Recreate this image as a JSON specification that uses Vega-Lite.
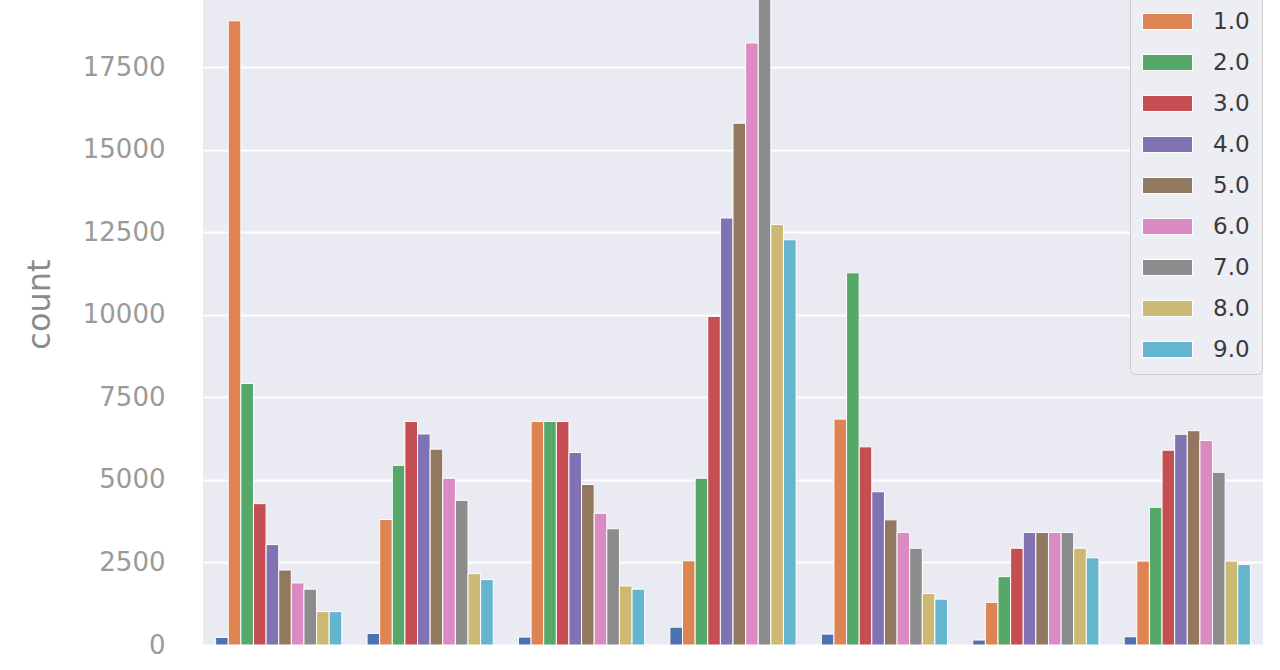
{
  "$schema": "https://vega.github.io/schema/vega-lite/v6.json",
  "width": 1060,
  "height": 645,
  "autosize": {"type": "none"},
  "padding": {"left": 203, "top": 0, "right": 17, "bottom": 25},
  "background": "white",
  "config": {
    "view": {"fill": "#EAEAF2", "stroke": null},
    "font": "DejaVu Sans"
  },
  "data": {
    "values": [
      {"group": "0", "hue": "0.0", "count": 230}, {"group": "0", "hue": "1.0", "count": 18900}, {"group": "0", "hue": "2.0", "count": 7920}, {"group": "0", "hue": "3.0", "count": 4280}, {"group": "0", "hue": "4.0", "count": 3040}, {"group": "0", "hue": "5.0", "count": 2270}, {"group": "0", "hue": "6.0", "count": 1880}, {"group": "0", "hue": "7.0", "count": 1690}, {"group": "0", "hue": "8.0", "count": 1010}, {"group": "0", "hue": "9.0", "count": 1010},
      {"group": "1", "hue": "0.0", "count": 350}, {"group": "1", "hue": "1.0", "count": 3800}, {"group": "1", "hue": "2.0", "count": 5440}, {"group": "1", "hue": "3.0", "count": 6770}, {"group": "1", "hue": "4.0", "count": 6390}, {"group": "1", "hue": "5.0", "count": 5930}, {"group": "1", "hue": "6.0", "count": 5050}, {"group": "1", "hue": "7.0", "count": 4380}, {"group": "1", "hue": "8.0", "count": 2160}, {"group": "1", "hue": "9.0", "count": 1980},
      {"group": "2", "hue": "0.0", "count": 240}, {"group": "2", "hue": "1.0", "count": 6770}, {"group": "2", "hue": "2.0", "count": 6770}, {"group": "2", "hue": "3.0", "count": 6770}, {"group": "2", "hue": "4.0", "count": 5830}, {"group": "2", "hue": "5.0", "count": 4860}, {"group": "2", "hue": "6.0", "count": 3990}, {"group": "2", "hue": "7.0", "count": 3520}, {"group": "2", "hue": "8.0", "count": 1790}, {"group": "2", "hue": "9.0", "count": 1690},
      {"group": "3", "hue": "0.0", "count": 540}, {"group": "3", "hue": "1.0", "count": 2550}, {"group": "3", "hue": "2.0", "count": 5050}, {"group": "3", "hue": "3.0", "count": 9950}, {"group": "3", "hue": "4.0", "count": 12930}, {"group": "3", "hue": "5.0", "count": 15800}, {"group": "3", "hue": "6.0", "count": 18230}, {"group": "3", "hue": "7.0", "count": 20500}, {"group": "3", "hue": "8.0", "count": 12730}, {"group": "3", "hue": "9.0", "count": 12270},
      {"group": "4", "hue": "0.0", "count": 330}, {"group": "4", "hue": "1.0", "count": 6840}, {"group": "4", "hue": "2.0", "count": 11270}, {"group": "4", "hue": "3.0", "count": 6000}, {"group": "4", "hue": "4.0", "count": 4640}, {"group": "4", "hue": "5.0", "count": 3790}, {"group": "4", "hue": "6.0", "count": 3410}, {"group": "4", "hue": "7.0", "count": 2930}, {"group": "4", "hue": "8.0", "count": 1560}, {"group": "4", "hue": "9.0", "count": 1390},
      {"group": "5", "hue": "0.0", "count": 150}, {"group": "5", "hue": "1.0", "count": 1290}, {"group": "5", "hue": "2.0", "count": 2070}, {"group": "5", "hue": "3.0", "count": 2930}, {"group": "5", "hue": "4.0", "count": 3410}, {"group": "5", "hue": "5.0", "count": 3410}, {"group": "5", "hue": "6.0", "count": 3410}, {"group": "5", "hue": "7.0", "count": 3410}, {"group": "5", "hue": "8.0", "count": 2930}, {"group": "5", "hue": "9.0", "count": 2640},
      {"group": "6", "hue": "0.0", "count": 250}, {"group": "6", "hue": "1.0", "count": 2540}, {"group": "6", "hue": "2.0", "count": 4170}, {"group": "6", "hue": "3.0", "count": 5900}, {"group": "6", "hue": "4.0", "count": 6380}, {"group": "6", "hue": "5.0", "count": 6490}, {"group": "6", "hue": "6.0", "count": 6190}, {"group": "6", "hue": "7.0", "count": 5230}, {"group": "6", "hue": "8.0", "count": 2540}, {"group": "6", "hue": "9.0", "count": 2440}
    ]
  },
  "mark": {"type": "bar", "stroke": "white", "strokeWidth": 1, "clip": true},
  "encoding": {
    "x": {
      "field": "group", "type": "nominal",
      "scale": {"paddingInner": 0, "paddingOuter": 0},
      "axis": null
    },
    "xOffset": {
      "field": "hue", "type": "nominal",
      "scale": {"paddingInner": 0, "paddingOuter": 1.25}
    },
    "y": {
      "field": "count", "type": "quantitative",
      "scale": {"domain": [0, 19530], "nice": false, "zero": true},
      "axis": {
        "title": "count",
        "values": [0, 2500, 5000, 7500, 10000, 12500, 15000, 17500],
        "format": "d",
        "ticks": false,
        "domain": false,
        "grid": true,
        "gridColor": "white",
        "gridWidth": 2,
        "labelFontSize": 26,
        "labelColor": "#9a9a9a",
        "labelPadding": 38,
        "titleFontSize": 32,
        "titleFontWeight": "normal",
        "titleColor": "#8a8a8a",
        "titlePadding": 26,
        "titleY": 304
      }
    },
    "color": {
      "field": "hue", "type": "nominal",
      "scale": {
        "domain": ["0.0", "1.0", "2.0", "3.0", "4.0", "5.0", "6.0", "7.0", "8.0", "9.0"],
        "range": ["#4C72B0", "#DD8452", "#55A868", "#C44E52", "#8172B3", "#937860", "#DA8BC3", "#8C8C8C", "#CCB974", "#64B5CD"]
      },
      "legend": {
        "title": null,
        "orient": "none",
        "legendX": 927,
        "legendY": -57,
        "padding": 12,
        "fillColor": "#EDEDF4",
        "strokeColor": "#cccccc",
        "cornerRadius": 5,
        "symbolType": "M-1,-0.32H1V0.32H-1Z",
        "symbolSize": 2500,
        "symbolStrokeColor": "white",
        "symbolStrokeWidth": 1,
        "symbolOpacity": 1,
        "labelFontSize": 23,
        "labelColor": "#3a3a3a",
        "labelOffset": 20,
        "rowPadding": 3
      }
    }
  }
}
